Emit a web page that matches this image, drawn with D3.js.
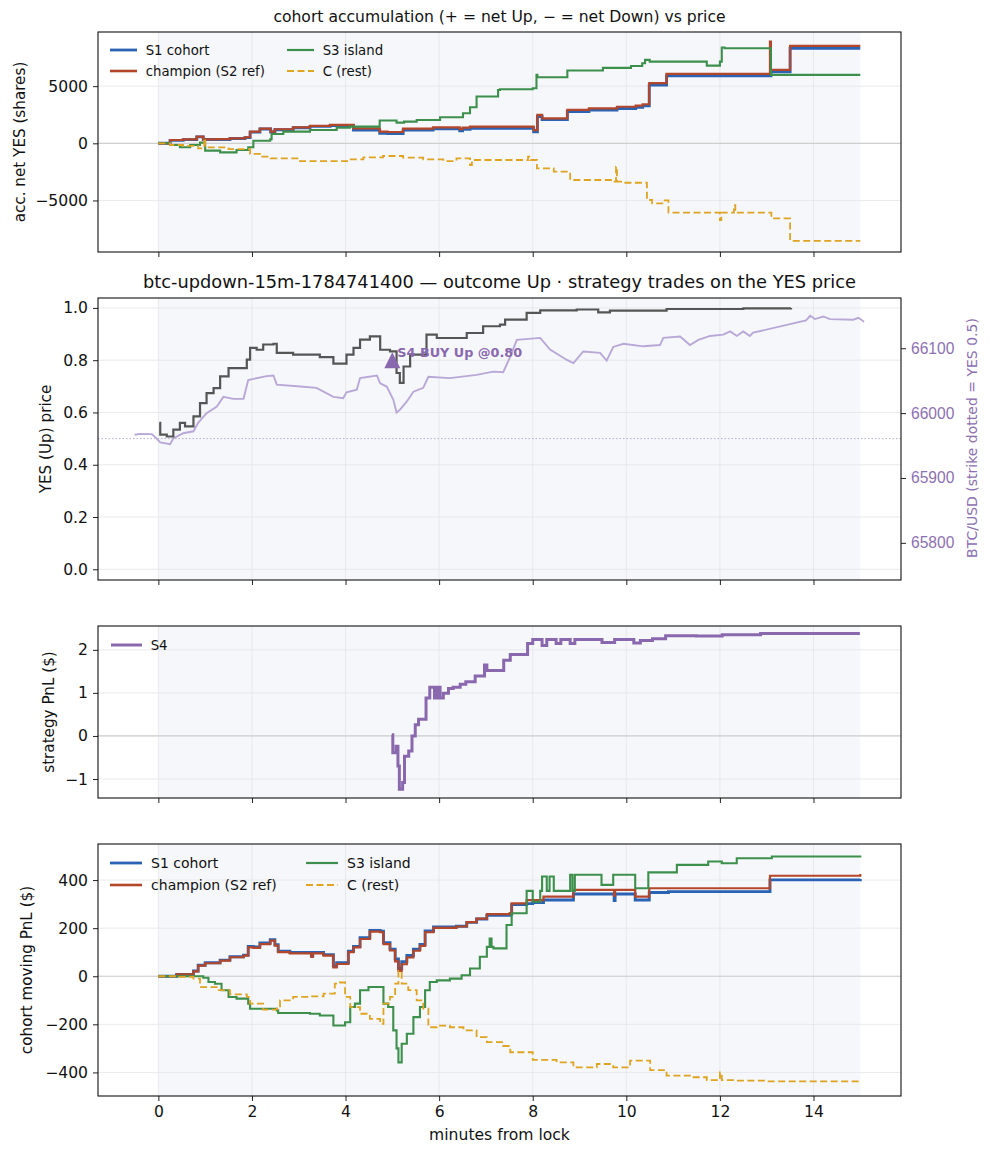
<!DOCTYPE html>
<html>
<head>
<meta charset="utf-8">
<script src="https://cdn.jsdelivr.net/npm/d3@7"></script>
<style>
  body { margin: 0; background: #fff; }
  svg { font-family: "DejaVu Sans", sans-serif; }
</style>
</head>
<body>
<div id="container"></div>
<script>
/* CONSTANTS */
const width = 993, height = 1156;
const plotLeft = 98, plotRight = 901;
const baseFont = 15.6;

/* DATA (minutes from lock, value) */
const xTicks = [0, 2, 4, 6, 8, 10, 12, 14];
const windowStart = 0, windowEnd = 15;

// panel 1: accumulated net YES shares
const accTicks = [-5000, 0, 5000];
const s1Acc = [[0,0],[0.25,260],[0.53,320],[0.82,560],[0.96,330],[1.25,340],[1.53,420],[1.85,500],[1.96,980],[2.17,1250],[2.40,990],[2.49,1190],[2.88,1360],[3.24,1480],[3.67,1560],[4.09,1560],[4.17,1170],[4.73,880],[4.9,850],[5.23,1150],[5.87,1260],[6.44,1100],[6.5,1230],[6.66,1320],[8.0,1320],[8.02,1000],[8.10,2350],[8.2,2080],[8.74,2780],[9.2,2900],[9.8,3050],[10.2,3150],[10.35,3280],[10.49,5100],[10.86,5900],[13.07,5900],[13.09,6250],[13.5,8320],[15.0,8320]];
const championAcc = [[0,0],[0.25,290],[0.53,350],[0.82,580],[0.96,350],[1.25,360],[1.53,440],[1.85,530],[1.96,1020],[2.17,1290],[2.40,1020],[2.49,1230],[2.88,1400],[3.24,1520],[3.67,1610],[4.09,1610],[4.17,1310],[4.73,1020],[4.9,990],[5.23,1290],[5.87,1400],[6.44,1230],[6.5,1370],[6.66,1460],[8.0,1460],[8.02,1150],[8.10,2480],[8.2,2190],[8.74,2920],[9.2,3050],[9.8,3200],[10.2,3300],[10.35,3420],[10.49,5260],[10.86,6070],[13.07,8900],[13.09,6420],[13.5,8530],[15.0,8530]];
const s3Acc = [[0,0],[0.25,-146],[0.46,-350],[0.68,-146],[0.89,58],[1.0,-640],[1.32,-790],[1.67,-580],[1.92,-350],[2.03,230],[2.39,350],[2.42,820],[2.67,1020],[3.24,1170],[3.81,1370],[4.09,1460],[4.73,1990],[5.09,1810],[5.25,1900],[5.52,2040],[6.02,2280],[6.51,2630],[6.66,3150],[6.8,4090],[7.26,4670],[7.30,4730],[8.0,4820],[8.08,6000],[8.10,5780],[8.74,6370],[9.5,6600],[10.1,6770],[10.34,7010],[10.4,7300],[10.5,7150],[11.7,7150],[11.72,6800],[12.0,7150],[12.04,8380],[12.1,8320],[13.09,5990],[15.0,5990]];
const cAcc = [[0,0],[0.25,-146],[0.53,-230],[0.85,-440],[0.98,440],[1.0,-350],[1.5,-500],[1.96,-930],[2.17,-1170],[2.4,-1310],[3.0,-1550],[4.09,-1400],[4.38,-1230],[4.8,-1110],[5.23,-1260],[5.66,-1400],[6.09,-1550],[6.37,-1310],[6.66,-1900],[6.7,-1460],[7.9,-1170],[7.95,-1460],[8.09,-2190],[8.45,-2480],[8.8,-3210],[9.75,-3360],[9.78,-2040],[9.8,-3360],[9.95,-3450],[10.44,-4960],[10.55,-5260],[10.8,-5000],[10.9,-6070],[12.0,-6720],[12.03,-6070],[12.3,-5400],[12.33,-6070],[13.1,-6570],[13.5,-8530],[15.0,-8530]];

// panel 2: YES price and BTC/USD
const priceTicks = [0, 0.2, 0.4, 0.6, 0.8, 1.0];
const btcTicks = [65800, 65900, 66000, 66100];
const strike = 65960.7;
const yesPrice = [[0.02,0.56],[0.04,0.515],[0.18,0.508],[0.32,0.534],[0.46,0.56],[0.57,0.547],[0.75,0.585],[0.89,0.636],[1.03,0.674],[1.18,0.693],[1.32,0.738],[1.5,0.770],[1.75,0.770],[1.89,0.802],[1.96,0.847],[2.1,0.840],[2.24,0.860],[2.46,0.863],[2.53,0.828],[2.88,0.821],[3.45,0.812],[3.74,0.787],[4.02,0.821],[4.17,0.847],[4.31,0.879],[4.52,0.891],[4.74,0.840],[4.95,0.834],[5.09,0.751],[5.16,0.713],[5.24,0.776],[5.38,0.821],[5.73,0.898],[5.95,0.885],[6.59,0.904],[6.94,0.930],[7.3,0.936],[7.41,0.955],[7.87,0.981],[8.16,0.991],[8.94,0.994],[9.4,0.983],[9.65,0.99],[10.15,0.99],[10.86,0.996],[12.5,0.998],[13.52,1.0]];
const btcUsd = [[-0.51,65966.6],[-0.39,65968],[-0.14,65967.6],[-0.04,65961],[0.04,65955],[0.25,65952],[0.32,65961],[0.53,65969],[0.75,65972],[0.85,65985],[1.03,66000],[1.25,66010],[1.39,66025],[1.6,66022],[1.82,66022],[1.92,66051],[2.31,66057],[2.46,66058],[2.53,66044],[3.03,66041],[3.38,66039],[3.74,66025],[3.95,66023],[4.02,66032],[4.24,66036],[4.31,66054],[4.67,66058],[4.74,66046],[4.88,66041],[5.02,66021],[5.09,66001],[5.16,66005],[5.31,66018],[5.45,66033],[5.66,66039],[5.77,66056],[6.23,66054],[6.8,66059],[7.16,66064],[7.37,66063],[7.52,66087],[7.66,66113],[8.16,66116],[8.37,66098],[8.73,66082],[8.87,66077],[9.08,66095],[9.44,66093],[9.58,66081],[9.72,66102],[9.94,66107],[10.36,66103],[10.72,66105],[10.79,66116],[11.15,66118],[11.36,66105],[11.54,66113],[11.79,66119],[12.07,66121],[12.22,66126],[12.36,66119],[12.5,66126],[12.64,66119],[12.71,66124],[13.84,66143],[13.93,66150],[14.03,66145],[14.21,66149],[14.35,66145],[14.85,66144],[14.96,66147],[15.08,66141]];
const s4Entry = { t: 5.0, price: 0.80, label: "S4 BUY Up @0.80" };

// panel 3: strategy PnL
const pnlTicks = [-1, 0, 1, 2];
const s4Pnl = [[4.99,0.03],[5.01,-0.39],[5.08,-0.24],[5.12,-0.7],[5.15,-1.24],[5.22,-1.08],[5.26,-0.47],[5.35,-0.35],[5.42,0.0],[5.49,0.26],[5.56,0.39],[5.72,0.88],[5.8,1.13],[5.9,0.88],[5.96,1.13],[6.02,0.88],[6.09,0.99],[6.2,1.1],[6.3,1.13],[6.45,1.2],[6.57,1.26],[6.77,1.39],[6.97,1.65],[7.02,1.52],[7.38,1.76],[7.52,1.89],[7.89,2.15],[8.0,2.24],[8.2,2.1],[8.3,2.24],[8.5,2.15],[8.6,2.24],[8.8,2.15],[8.9,2.24],[9.35,2.24],[9.48,2.17],[9.75,2.24],[10.16,2.16],[10.3,2.22],[10.56,2.26],[10.84,2.33],[11.5,2.32],[12.05,2.35],[12.87,2.38],[14.99,2.38]];

// panel 4: cohort moving PnL
const movTicks = [-400, -200, 0, 200, 400];
const s1Pnl = [[0,0],[0.39,8],[0.75,22],[0.85,46],[1.0,56],[1.32,67],[1.53,81],[1.82,88],[1.92,124],[2.03,122],[2.17,138],[2.39,152],[2.49,131],[2.56,104],[2.81,99],[3.24,99],[3.27,85],[3.3,99],[3.53,90],[3.74,42],[3.81,56],[4.02,56],[4.06,104],[4.17,124],[4.31,160],[4.52,190],[4.74,187],[4.81,140],[4.95,113],[5.06,72],[5.13,32],[5.2,60],[5.31,86],[5.45,112],[5.59,132],[5.7,188],[5.88,205],[6.37,208],[6.59,224],[6.8,238],[7.02,253],[7.51,258],[7.55,298],[7.87,302],[8.0,306],[8.23,317],[8.87,342],[9.72,342],[9.74,315],[9.76,342],[10.19,317],[10.49,348],[10.9,352],[13.07,401],[15.0,404]];
const championPnl = [[0,0],[0.39,8],[0.75,20],[0.85,44],[1.0,54],[1.32,65],[1.53,79],[1.82,86],[1.92,120],[2.03,118],[2.17,134],[2.39,148],[2.49,127],[2.56,100],[2.81,95],[3.24,95],[3.27,80],[3.3,95],[3.53,86],[3.74,37],[3.81,51],[4.02,51],[4.06,100],[4.17,120],[4.31,155],[4.52,186],[4.74,183],[4.81,134],[4.95,107],[5.06,62],[5.13,22],[5.2,50],[5.31,78],[5.45,106],[5.59,126],[5.7,183],[5.88,201],[6.37,207],[6.59,225],[6.8,240],[7.02,258],[7.51,263],[7.55,303],[7.87,317],[8.0,317],[8.23,331],[8.87,359],[9.72,359],[9.74,335],[9.76,359],[10.19,331],[10.49,366],[10.9,366],[13.07,418],[15.0,425]];
const s3Pnl = [[0,0],[0.96,-6],[1.07,-24],[1.21,-31],[1.35,-58],[1.5,-86],[1.67,-93],[1.92,-114],[1.96,-135],[2.53,-142],[2.56,-153],[3.24,-156],[3.45,-163],[3.74,-205],[3.99,-191],[4.1,-128],[4.2,-114],[4.31,-58],[4.49,-45],[4.74,-45],[4.81,-114],[4.91,-128],[5.02,-225],[5.09,-300],[5.13,-358],[5.2,-281],[5.31,-239],[5.45,-170],[5.59,-128],[5.7,-58],[5.8,-24],[5.95,-17],[6.23,-10],[6.48,4],[6.66,32],[6.87,81],[7.02,122],[7.08,157],[7.12,122],[7.16,116],[7.44,213],[7.55,262],[7.87,355],[8.0,310],[8.16,355],[8.2,415],[8.3,355],[8.36,415],[8.45,355],[8.8,422],[8.85,355],[8.9,422],[9.47,380],[9.72,422],[10.19,366],[10.47,432],[11.08,463],[11.75,477],[12.04,470],[12.36,491],[13.11,498],[15.0,502]];
const cPnl = [[0,0],[0.39,-3],[0.75,-10],[0.89,-45],[1.25,-58],[1.53,-75],[1.89,-86],[1.96,-114],[2.24,-139],[2.53,-135],[2.6,-100],[2.88,-86],[3.24,-84],[3.53,-72],[3.77,-31],[3.88,-26],[3.99,-86],[4.1,-128],[4.31,-156],[4.52,-177],[4.74,-198],[4.81,-114],[4.95,-86],[5.06,-31],[5.13,22],[5.2,-31],[5.34,-58],[5.52,-100],[5.66,-135],[5.77,-212],[5.95,-205],[6.23,-212],[6.52,-225],[6.8,-253],[7.02,-274],[7.37,-290],[7.52,-316],[8.0,-348],[8.51,-358],[8.87,-379],[9.37,-365],[9.72,-379],[10.08,-351],[10.51,-390],[10.86,-413],[11.36,-420],[11.72,-432],[12.0,-400],[12.04,-432],[12.36,-434],[13.0,-437],[15.0,-441]];

/* STYLES */
const colors = {
  s1: "#2a63b3", champion: "#b4462a", s3: "#3d8f4c", c: "#dfa422",
  price: "#555555", btc: "#b9a8d7", s4: "#8a68ae", btcText: "#8d70b1"
};

const svg = d3.select("#container").append("svg")
  .attr("width", width).attr("height", height);

const xScale = d3.scaleLinear().domain([-1.29, 15.87]).range([plotLeft, plotRight]);

const stepLine = (y) => d3.line().x(d => xScale(d[0])).y(d => y(d[1])).curve(d3.curveStepAfter);

// draws frame, shade, grid, ticks for one panel and returns its y scale
function makePanel(top, bottom, domain, ticks, fmt, showXLabels) {
  const y = d3.scaleLinear().domain(domain).range([bottom, top]);
  const g = svg.append("g");

  g.append("rect")
    .attr("x", xScale(windowStart)).attr("y", top)
    .attr("width", xScale(windowEnd) - xScale(windowStart)).attr("height", bottom - top)
    .attr("fill", "#f5f7fb");

  g.selectAll(".vgrid").data(xTicks).join("line")
    .attr("x1", d => xScale(d)).attr("x2", d => xScale(d))
    .attr("y1", top).attr("y2", bottom)
    .attr("stroke", "#e5e5e8").attr("stroke-width", 0.8);
  g.selectAll(".hgrid").data(ticks).join("line")
    .attr("x1", plotLeft).attr("x2", plotRight)
    .attr("y1", d => y(d)).attr("y2", d => y(d))
    .attr("stroke", "#e5e5e8").attr("stroke-width", 0.8);

  const yAxis = g.append("g")
    .attr("transform", `translate(${plotLeft},0)`)
    .call(d3.axisLeft(y).tickValues(ticks).tickSize(5).tickPadding(5).tickFormat(fmt));
  const xAxis = g.append("g")
    .attr("transform", `translate(0,${bottom})`)
    .call(d3.axisBottom(xScale).tickValues(xTicks).tickSize(5).tickPadding(5)
      .tickFormat(showXLabels ? d3.format("d") : ""));
  [yAxis, xAxis].forEach(a => {
    a.select(".domain").remove();
    a.selectAll("text").attr("font-size", baseFont).attr("fill", "#111").attr("font-family", "DejaVu Sans");
    a.selectAll("line").attr("stroke", "#222");
  });

  const layer = svg.append("g");
  // frame drawn last
  svg.append("rect").attr("class", "frame")
    .attr("x", plotLeft).attr("y", top)
    .attr("width", plotRight - plotLeft).attr("height", bottom - top)
    .attr("fill", "none").attr("stroke", "#111").attr("stroke-width", 1.1);

  return { y, layer };
}

function zeroLine(p) {
  p.layer.append("line")
    .attr("x1", plotLeft).attr("x2", plotRight)
    .attr("y1", p.y(0)).attr("y2", p.y(0))
    .attr("stroke", "#cfcfcf").attr("stroke-width", 1.2);
}

function drawSeries(p, data, color, w, dash) {
  p.layer.append("path")
    .attr("d", stepLine(p.y)(data))
    .attr("fill", "none").attr("stroke", color)
    .attr("stroke-width", w)
    .attr("stroke-dasharray", dash || null)
    .attr("stroke-linejoin", "miter");
}

function yLabel(text, x, cy, size, color) {
  svg.append("text")
    .attr("transform", `translate(${x},${cy}) rotate(-90)`)
    .attr("text-anchor", "middle").attr("font-size", size)
    .attr("fill", color || "#111").text(text);
}

function legend(items, x0, y0, colGap, rowGap, size, lineLen) {
  items.forEach((d, i) => {
    const col = Math.floor(i / 2), row = i % 2;
    const lx = x0 + col * colGap, ly = y0 + row * rowGap;
    svg.append("line")
      .attr("x1", lx).attr("x2", lx + lineLen).attr("y1", ly).attr("y2", ly)
      .attr("stroke", d.color).attr("stroke-width", d.w)
      .attr("stroke-dasharray", d.dash || null);
    svg.append("text")
      .attr("x", lx + lineLen + size * 0.65).attr("y", ly + size * 0.36)
      .attr("font-size", size).attr("fill", "#111").text(d.label);
  });
}

const fmtInt = d3.format("d");

/* PANEL 1 */
const p1 = makePanel(32, 252, [-9510, 9740], accTicks, fmtInt, false);
zeroLine(p1);
drawSeries(p1, s1Acc, colors.s1, 2.9);
drawSeries(p1, championAcc, colors.champion, 2.2);
drawSeries(p1, s3Acc, colors.s3, 2.1);
drawSeries(p1, cAcc, colors.c, 1.8, "7,3.5");
svg.append("text").attr("x", (plotLeft + plotRight) / 2).attr("y", 22)
  .attr("text-anchor", "middle").attr("font-size", baseFont).attr("fill", "#111")
  .text("cohort accumulation (+ = net Up, \u2212 = net Down) vs price");
yLabel("acc. net YES (shares)", 25, 142, 15.2);
const cohortLegend = [
  { label: "S1 cohort", color: colors.s1, w: 2.8 },
  { label: "champion (S2 ref)", color: colors.champion, w: 2.6 },
  { label: "S3 island", color: colors.s3, w: 2.2 },
  { label: "C (rest)", color: colors.c, w: 2, dash: "7,3.5" }
];
legend(cohortLegend, 110, 50, 177, 21, 13.3, 27);

/* PANEL 2 */
const p2 = makePanel(298, 580, [-0.041, 1.038], priceTicks, d3.format(".1f"), false);
const yBtc = d3.scaleLinear().domain([65742.7, 66177.5]).range([580, 298]);
const rightAxis = svg.append("g").attr("transform", `translate(${plotRight},0)`)
  .call(d3.axisRight(yBtc).tickValues(btcTicks).tickSize(5).tickPadding(5).tickFormat(fmtInt));
rightAxis.select(".domain").remove();
rightAxis.selectAll("text").attr("font-size", baseFont).attr("fill", colors.btcText);
rightAxis.selectAll("line").attr("stroke", "#222");

p2.layer.append("line")
  .attr("x1", plotLeft).attr("x2", plotRight)
  .attr("y1", yBtc(strike)).attr("y2", yBtc(strike))
  .attr("stroke", colors.btc).attr("stroke-width", 1).attr("stroke-dasharray", "1.5,2");
p2.layer.append("path")
  .attr("d", d3.line().x(d => xScale(d[0])).y(d => yBtc(d[1]))(btcUsd))
  .attr("fill", "none").attr("stroke", colors.btc).attr("stroke-width", 1.9);
drawSeries(p2, yesPrice, colors.price, 2.2);
const ex = xScale(s4Entry.t), ey = p2.y(s4Entry.price);
p2.layer.append("path")
  .attr("d", "M0,-8L8,8L-8,8Z")
  .attr("transform", `translate(${ex},${ey})`)
  .attr("fill", colors.s4);
p2.layer.append("text").attr("x", ex + 5).attr("y", ey - 3)
  .attr("font-size", 12.8).attr("font-weight", "bold").attr("fill", colors.s4)
  .text(s4Entry.label);
svg.append("text").attr("x", (plotLeft + plotRight) / 2).attr("y", 288)
  .attr("text-anchor", "middle").attr("font-size", 17.8).attr("fill", "#111")
  .text("btc-updown-15m-1784741400 \u2014 outcome Up \u00b7 strategy trades on the YES price");
yLabel("YES (Up) price", 51, 439, 15.2);
yLabel("BTC/USD (strike dotted = YES 0.5)", 977, 438, 14, colors.btcText);

/* PANEL 3 */
const p3 = makePanel(626, 798, [-1.441, 2.554], pnlTicks, fmtInt, false);
zeroLine(p3);
drawSeries(p3, s4Pnl, colors.s4, 3);
yLabel("strategy PnL ($)", 54, 712, 15.2);
legend([{ label: "S4", color: colors.s4, w: 3 }], 111, 645, 0, 0, 13.3, 31);

/* PANEL 4 */
const p4 = makePanel(844, 1096, [-498, 550], movTicks, fmtInt, true);
zeroLine(p4);
drawSeries(p4, s1Pnl, colors.s1, 2.9);
drawSeries(p4, championPnl, colors.champion, 2.2);
drawSeries(p4, s3Pnl, colors.s3, 2.1);
drawSeries(p4, cPnl, colors.c, 1.8, "7,3.5");
yLabel("cohort moving PnL ($)", 32, 970, 15.2);
legend(cohortLegend, 110, 863, 196, 22, 14, 32);
svg.append("text").attr("x", (plotLeft + plotRight) / 2).attr("y", 1140)
  .attr("text-anchor", "middle").attr("font-size", baseFont).attr("fill", "#111")
  .text("minutes from lock");
</script>
</body>
</html>
